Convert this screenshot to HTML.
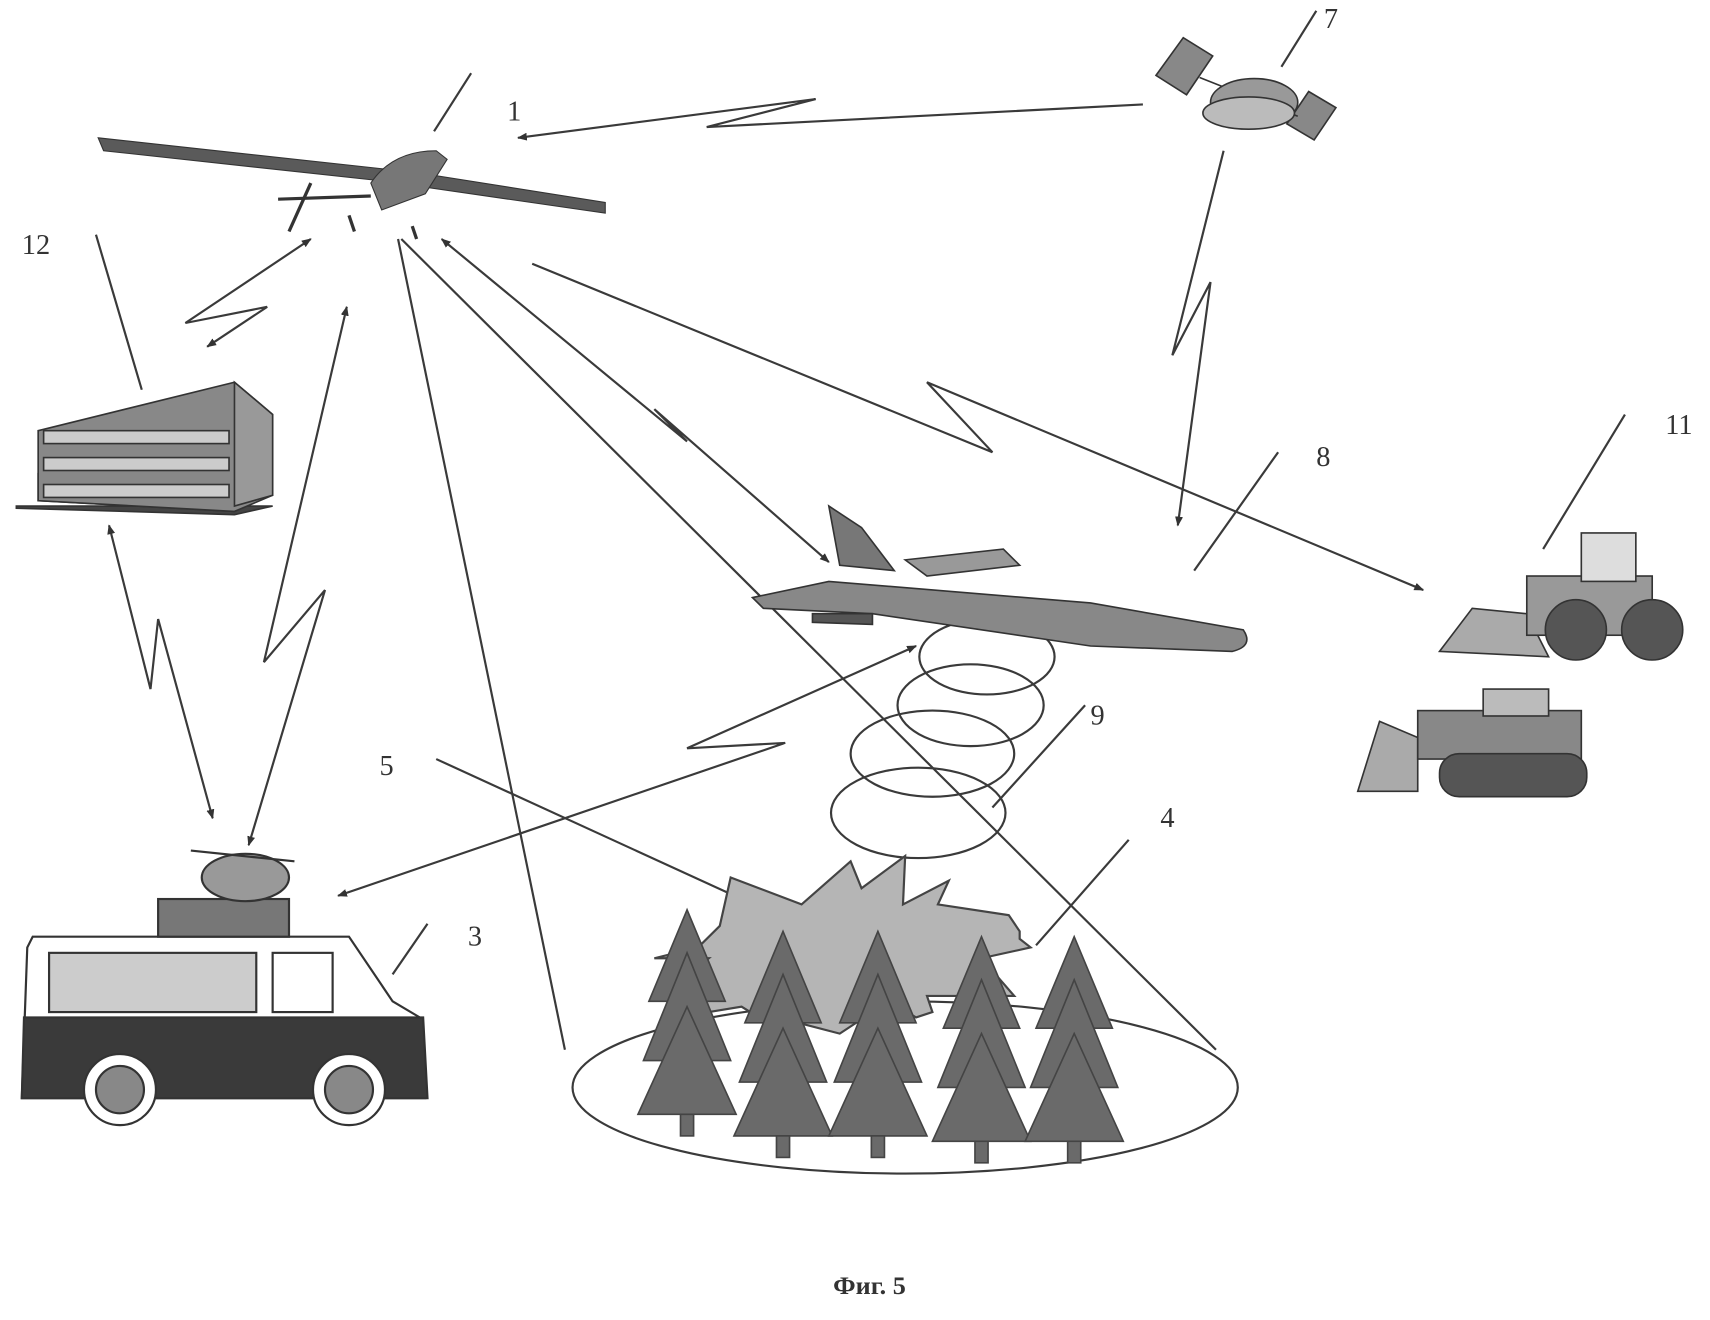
<!DOCTYPE html>
<html><head><meta charset="utf-8"><style>
html,body{margin:0;padding:0;background:#fff;}
svg{display:block}
text{font-family:"Liberation Serif",serif;fill:#333}
</style></head><body>
<svg width="1710" height="1320" viewBox="0 0 1568 1226" preserveAspectRatio="none" xmlns="http://www.w3.org/2000/svg">
<defs>
<marker id="a" viewBox="0 0 10 10" refX="9" refY="5" markerWidth="9" markerHeight="9" orient="auto-start-reverse" markerUnits="userSpaceOnUse"><path d="M0,1 L10,5 L0,9 Z" fill="#333" transform="scale(1.6) translate(-3.7,-1.9)"/></marker>
</defs>
<rect width="1568" height="1226" fill="#fff"/>
<g stroke="#3a3a3a" stroke-width="2" fill="none">
<!-- leaders -->
<line x1="432" y1="68" x2="398" y2="122"/>
<line x1="1207" y1="10" x2="1175" y2="62"/>
<line x1="88" y1="218" x2="130" y2="362"/>
<line x1="1172" y1="420" x2="1095" y2="530"/>
<line x1="1490" y1="385" x2="1415" y2="510"/>
<line x1="995" y1="655" x2="910" y2="750"/>
<line x1="400" y1="705" x2="680" y2="835"/>
<line x1="1035" y1="780" x2="950" y2="878"/>
<line x1="392" y1="858" x2="360" y2="905"/>
<!-- cone -->
<line x1="365" y1="222" x2="518" y2="975"/>
<line x1="368" y1="222" x2="1115" y2="975"/>
<!-- zigzag links -->
<polyline points="1048,97 648,118 748,92 475,128" marker-end="url(#a)"/>
<polyline points="1122,140 1075,330 1110,262 1080,488" marker-end="url(#a)"/>
<polyline points="285,222 170,300 245,285 190,322" marker-start="url(#a)" marker-end="url(#a)"/>
<polyline points="318,285 242,615 298,548 228,785" marker-start="url(#a)" marker-end="url(#a)"/>
<polyline points="100,488 138,640 145,575 195,760" marker-start="url(#a)" marker-end="url(#a)"/>
<polyline points="405,222 630,410 600,380 760,522" marker-start="url(#a)" marker-end="url(#a)"/>
<polyline points="488,245 910,420 850,355 1305,548" marker-end="url(#a)"/>
<polyline points="840,600 630,695 720,690 310,832" marker-start="url(#a)" marker-end="url(#a)"/>
<!-- forest ellipse -->
<ellipse cx="830" cy="1010" rx="305" ry="80"/>
<!-- ellipses 9 -->
<ellipse cx="905" cy="610" rx="62" ry="35"/>
<ellipse cx="890" cy="655" rx="67" ry="38"/>
<ellipse cx="855" cy="700" rx="75" ry="40"/>
<ellipse cx="842" cy="755" rx="80" ry="42"/>
</g>
<!-- fire -->
<path d="M670,815 L735,840 L780,800 L790,825 L830,795 L828,840 L870,818 L860,840 L925,850 L935,865 L935,872 L945,880 L900,890 L930,925 L850,925 L855,940 L840,945 L815,930 L770,960 L732,950 L728,965 L680,935 L650,940 L638,900 L650,890 L600,890 L640,880 L660,860 Z" fill="#b5b5b5" stroke="#444" stroke-width="2"/>
<!-- trees -->
<g fill="#6a6a6a" stroke="#444" stroke-width="1.5">
<g id="t"><polygon points="630,845 595,930 665,930"/><polygon points="630,885 590,985 670,985"/><polygon points="630,935 585,1035 675,1035"/><rect x="624" y="1035" width="12" height="20"/></g>
<use href="#t" transform="translate(88,20)"/>
<use href="#t" transform="translate(175,20)"/>
<use href="#t" transform="translate(270,25)"/>
<use href="#t" transform="translate(355,25)"/>
</g>
<!-- UAV -->
<g fill="#5a5a5a" stroke="#333" stroke-width="1">
<polygon points="90,128 95,140 350,168 555,198 555,188 380,160"/>
<path d="M340,170 Q360,140 400,140 L410,148 L390,180 L350,195 Z" fill="#777"/>
<line x1="255" y1="185" x2="340" y2="182" stroke-width="3"/>
<line x1="265" y1="215" x2="285" y2="170" stroke-width="3"/>
<line x1="320" y1="200" x2="325" y2="215" stroke-width="3"/>
<line x1="378" y1="210" x2="382" y2="222" stroke-width="3"/>
</g>
<!-- satellite -->
<g stroke="#333" stroke-width="1.5">
<polygon points="1060,70 1085,35 1112,52 1088,88" fill="#888"/>
<polygon points="1180,115 1200,85 1225,100 1205,130" fill="#888"/>
<line x1="1100" y1="72" x2="1190" y2="108"/>
<ellipse cx="1150" cy="95" rx="40" ry="22" fill="#999"/>
<ellipse cx="1145" cy="105" rx="42" ry="15" fill="#bbb"/>
</g>
<!-- building -->
<g stroke="#333" stroke-width="1.5">
<polygon points="15,470 250,470 215,478 15,472" fill="#444"/>
<polygon points="35,465 215,475 215,445 35,440" fill="#555"/>
<polygon points="35,400 215,355 250,385 250,460 215,475 35,465" fill="#888"/>
<rect x="40" y="400" width="170" height="12" fill="#ccc"/>
<rect x="40" y="425" width="170" height="12" fill="#ccc"/>
<rect x="40" y="450" width="170" height="12" fill="#ccc"/>
<polygon points="215,355 250,385 250,460 215,470" fill="#999"/>
</g>
<!-- van -->
<g stroke="#333" stroke-width="2">
<path d="M30,870 L320,870 L360,930 L385,945 L390,1020 L20,1020 L25,880 Z" fill="#fff"/>
<rect x="45" y="885" width="190" height="55" fill="#ccc"/>
<rect x="250" y="885" width="55" height="55" fill="#fff"/>
<path d="M22,945 L388,945 L392,1020 L20,1020 Z" fill="#3a3a3a"/>
<circle cx="110" cy="1012" r="33" fill="#fff"/><circle cx="110" cy="1012" r="22" fill="#888"/>
<circle cx="320" cy="1012" r="33" fill="#fff"/><circle cx="320" cy="1012" r="22" fill="#888"/>
<rect x="145" y="835" width="120" height="35" fill="#777"/>
<ellipse cx="225" cy="815" rx="40" ry="22" fill="#999"/>
<line x1="175" y1="790" x2="270" y2="800"/>
</g>
<!-- plane 8 -->
<g stroke="#333" stroke-width="1.5">
<path d="M690,555 L760,540 L1000,560 L1140,585 Q1150,600 1130,605 L1000,600 L800,570 L700,565 Z" fill="#888"/>
<path d="M770,525 L760,470 L790,490 L820,530 Z" fill="#777"/>
<path d="M830,520 L920,510 L935,525 L850,535 Z" fill="#999"/>
<path d="M745,570 L800,570 L800,580 L745,578 Z" fill="#555"/>
</g>
<!-- loader -->
<g stroke="#333" stroke-width="1.5">
<path d="M1320,605 L1350,565 L1400,570 L1420,610 Z" fill="#aaa"/>
<rect x="1400" y="535" width="115" height="55" fill="#999"/>
<rect x="1450" y="495" width="50" height="45" fill="#ddd"/>
<circle cx="1445" cy="585" r="28" fill="#555"/><circle cx="1515" cy="585" r="28" fill="#555"/>
</g>
<!-- bulldozer -->
<g stroke="#333" stroke-width="1.5">
<path d="M1245,735 L1265,670 L1300,685 L1300,735 Z" fill="#aaa"/>
<rect x="1300" y="660" width="150" height="45" fill="#888"/>
<rect x="1360" y="640" width="60" height="25" fill="#bbb"/>
<rect x="1320" y="700" width="135" height="40" rx="18" fill="#555"/>
</g>
<!-- labels -->
<g font-size="26">
<text x="465" y="112">1</text>
<text x="1214" y="26">7</text>
<text x="20" y="236">12</text>
<text x="1207" y="433">8</text>
<text x="1527" y="403">11</text>
<text x="1000" y="673">9</text>
<text x="348" y="720">5</text>
<text x="1064" y="768">4</text>
<text x="429" y="878">3</text>
<text x="764" y="1202" font-weight="bold" font-size="24">Фиг. 5</text>
</g>
</svg>
</body></html>
